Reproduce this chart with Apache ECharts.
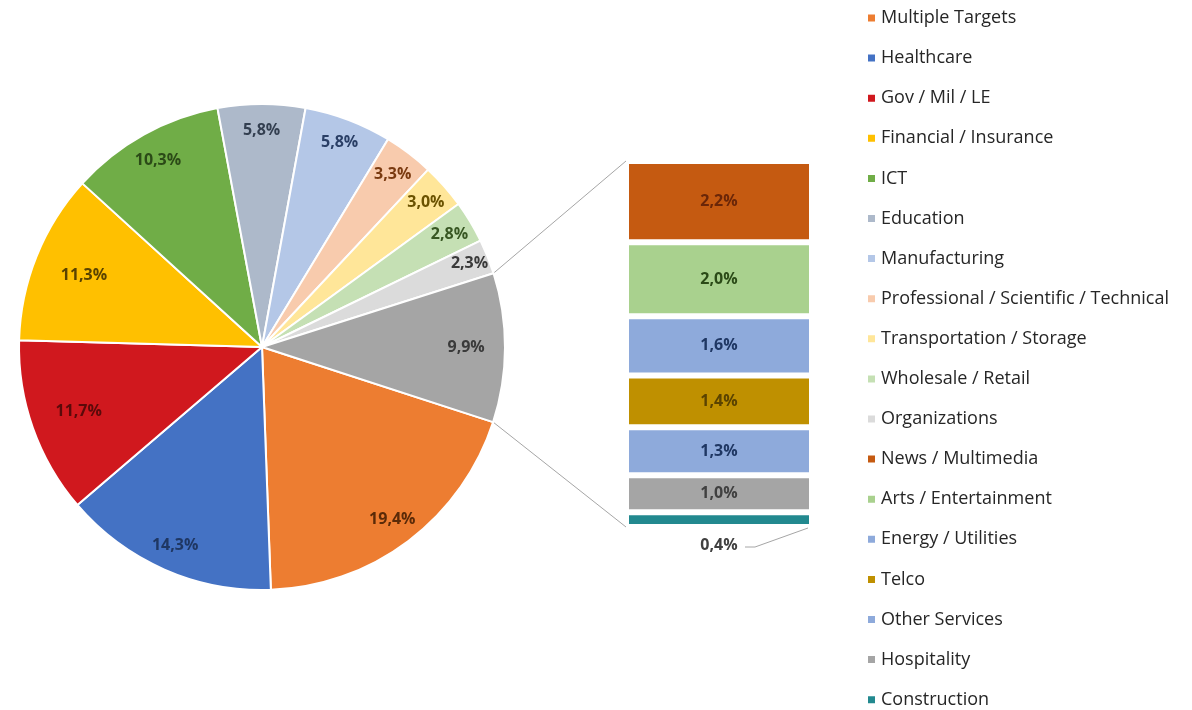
<!DOCTYPE html>
<html>
<head>
<meta charset="utf-8">
<script src="https://cdn.jsdelivr.net/npm/echarts@6/dist/echarts.min.js"></script>
<style>
html,body{margin:0;padding:0;background:#fff;}
#main{width:1192px;height:710px;}
</style>
</head>
<body>
<div id="main"></div>
<script>
// ---- data ----
const pieNames = ['Multiple Targets','Healthcare','Gov / Mil / LE','Financial / Insurance','ICT','Education','Manufacturing','Professional / Scientific / Technical','Transportation / Storage','Wholesale / Retail','Organizations','Other'];
const pieValues = [19.4,14.3,11.7,11.3,10.3,5.8,5.8,3.3,3.0,2.8,2.3,9.9];
const barNames = ['Construction','Hospitality','Other Services','Telco','Energy / Utilities','Arts / Entertainment','News / Multimedia'];
const barValues = [0.4,1.0,1.3,1.4,1.6,2.0,2.2];
const legendNames = ['Multiple Targets','Healthcare','Gov / Mil / LE','Financial / Insurance','ICT','Education','Manufacturing','Professional / Scientific / Technical','Transportation / Storage','Wholesale / Retail','Organizations','News / Multimedia','Arts / Entertainment','Energy / Utilities','Telco','Other Services','Hospitality','Construction'];

// ---- styles ----
const pieColors = ['#ED7D31','#4472C4','#D0181E','#FFC000','#70AD47','#ADB9CA','#B4C7E7','#F8CBAD','#FFE699','#C5E0B4','#DBDBDB','#A5A5A5'];
const pieLabelColors = ['#5a2a08','#1f3763','#5a0a0a','#5a4300','#2b4a17','#333f50','#2a3f66','#7a3a10','#6b5200','#385723','#3a3a3a','#3a3a3a'];
const labelRadius = [0.89,0.89,0.80,0.79,0.88,0.89,0.90,0.89,0.90,0.90,0.92,0.84];
const barColors = ['#22898F','#A5A5A5','#8EAADB','#BF9000','#8EAADB','#A9D18E','#C55A11'];
const barLabelColors = ['#404040','#404040','#1f3763','#5a4300','#1f3763','#2b4a17','#6a2608'];
const FONT = '"Open Sans", Lato, sans-serif';
const CX = 262, CY = 347;

const fmt = v => v.toFixed(1).replace('.', ',') + '%';
const barTotal = barValues.reduce((a,b)=>a+b,0);

const chart = echarts.init(document.getElementById('main'), null, {renderer:'canvas'});

const pieData = pieNames.map((n,i)=>({name:n, value:pieValues[i], itemStyle:{color:pieColors[i]}}));
const pieLabelData = pieNames.map((n,i)=>({name:n, value:pieValues[i], label:{color:pieLabelColors[i]}}));

const series = [
  {
    type:'pie', name:'sectors', center:[CX,CY], radius:243, startAngle:342, clockwise:true,
    data: pieData, label:{show:false}, labelLine:{show:false},
    itemStyle:{borderColor:'#fff', borderWidth:2},
    emphasis:{scale:false}
  },
  {
    type:'pie', name:'labels', center:[CX,CY], radius:243, startAngle:342, clockwise:true, silent:true,
    data: pieLabelData,
    itemStyle:{color:'rgba(0,0,0,0)'},
    label:{show:true, position:'inside', formatter:p=>fmt(p.value), fontFamily:FONT, fontWeight:'bold', fontSize:16},
    labelLine:{show:false},
    labelLayout: function(params){
      const lay = chart.getModel().getSeriesByIndex(1).getData().getItemLayout(params.dataIndex);
      const mid = (lay.startAngle + lay.endAngle)/2;
      const rr = lay.r * labelRadius[params.dataIndex];
      return {x: lay.cx + rr*Math.cos(mid), y: lay.cy + rr*Math.sin(mid), align:'center', verticalAlign:'middle'};
    }
  }
];
barNames.forEach((n,i)=>{
  series.push({
    type:'bar', name:n, stack:'other', barWidth:'100%',
    data:[barValues[i]],
    itemStyle:{color:barColors[i], borderColor:'#fff', borderWidth:3},
    label: i===0
      ? {show:true, position:'bottom', distance:10, formatter:p=>fmt(p.value), color:'#404040', fontFamily:FONT, fontWeight:'bold', fontSize:16}
      : {show:true, position:'inside', formatter:p=>fmt(p.value), color:barLabelColors[i], fontFamily:FONT, fontWeight:'bold', fontSize:16}
  });
});

chart.setOption({
  animation:false,
  backgroundColor:'#fff',
  legend:{
    orient:'vertical', left:866, top:9, height:701, padding:0, itemWidth:9, itemHeight:9, icon:'rect', itemGap:22.1,
    data: legendNames,
    textStyle:{fontFamily:FONT, fontSize:18, color:'#262626', lineHeight:18}
  },
  grid:{left:626, top:161, width:186, height:366},
  xAxis:{type:'category', data:['Other'], show:false},
  yAxis:{type:'value', min:0, max:barTotal, show:false},
  series: series
});

// connector lines from the "Other" slice to the bar, derived from library layouts
const model = chart.getModel();
const lay = model.getSeriesByIndex(0).getData().getItemLayout(pieNames.length-1);
const p1 = [lay.cx + lay.r*Math.cos(lay.startAngle), lay.cy + lay.r*Math.sin(lay.startAngle)];
const p2 = [lay.cx + lay.r*Math.cos(lay.endAngle), lay.cy + lay.r*Math.sin(lay.endAngle)];
const pTop = p1[1] < p2[1] ? p1 : p2;
const pBot = p1[1] < p2[1] ? p2 : p1;
const rect = model.getComponent('grid',0).coordinateSystem.getRect();
const yTop = chart.convertToPixel({yAxisIndex:0}, barTotal);
const yBot = chart.convertToPixel({yAxisIndex:0}, 0);
const xMid = rect.x + rect.width/2;
const lineStyle = {stroke:'#A6A6A6', lineWidth:1};
chart.setOption({
  graphic:[
    {type:'line', shape:{x1:pTop[0], y1:pTop[1], x2:rect.x, y2:yTop}, style:lineStyle, silent:true},
    {type:'line', shape:{x1:pBot[0], y1:pBot[1], x2:rect.x, y2:yBot}, style:lineStyle, silent:true},
    {type:'polyline', shape:{points:[[xMid+26, yBot+20],[xMid+36, yBot+20],[rect.x+rect.width-4, yBot+1]]}, style:{stroke:'#A6A6A6', lineWidth:1, fill:null}, silent:true}
  ]
});
</script>
</body>
</html>
